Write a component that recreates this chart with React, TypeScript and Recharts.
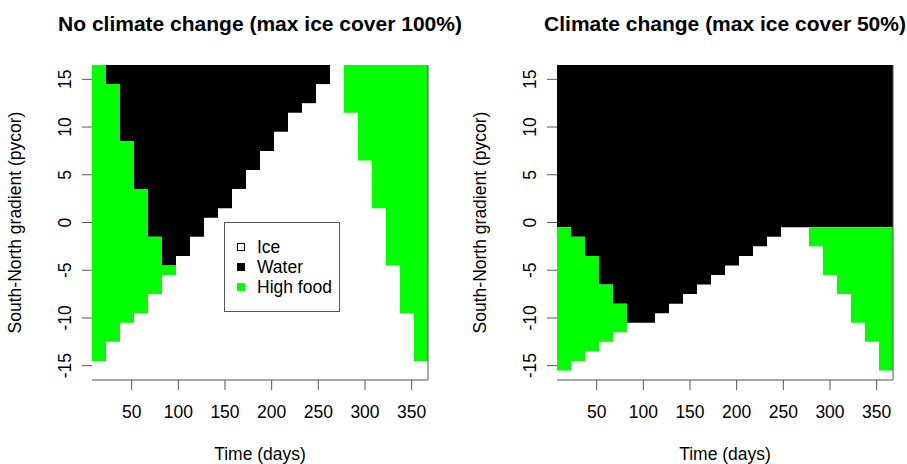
import React from "react";
import { ComposedChart, Bar, XAxis, YAxis, ReferenceLine, Legend } from "recharts";

// one column every 15 days
const days = [15, 30, 45, 60, 75, 90, 105, 120, 135, 150, 165, 180, 195, 210, 225, 240, 255, 270, 285, 300, 315, 330, 345, 360];

// per column: highest ice cell (pycor) and highest high-food cell; water fills the rest up to the top
const iceTopNoChange = [-15, -13, -11, -10, -8, -6, -4, -2, 0, 1, 3, 5, 7, 9, 11, 12, 14, 16, 11, 6, 1, -5, -10, -15];
const foodTopNoChange = [16, 14, 8, 3, -2, -5, -4, -2, 0, 1, 3, 5, 7, 9, 11, 12, 14, 16, 16, 16, 16, 16, 16, 16];

const iceTopChange = [-16, -15, -14, -13, -12, -11, -11, -10, -9, -8, -7, -6, -5, -4, -3, -2, -1, -1, -3, -6, -8, -11, -13, -16];
const foodTopChange = [-1, -2, -4, -7, -9, -11, -11, -10, -9, -8, -7, -6, -5, -4, -3, -2, -1, -1, -1, -1, -1, -1, -1, -1];

const pycorMin = -16;
const pycorMax = 16;
const timeTicks = [50, 100, 150, 200, 250, 300, 350];
const pycorTicks = [-15, -10, -5, 0, 5, 10, 15];
const legendOrder = ["Ice", "Water", "High food"];

const FONT = '"Liberation Sans", Arial, Helvetica, sans-serif';
const AXIS = "#555";
const ICE = "#ffffff";
const WATER = "#000000";
const FOOD = "#00ff00";

function buildRows(iceTop: number[], foodTop: number[]) {
  const lo = pycorMin - 0.5;
  const hi = pycorMax + 0.5;
  return days.map((day, i) => ({
    day,
    ice: [lo, iceTop[i] + 0.5],
    food: [iceTop[i] + 0.5, foodTop[i] + 0.5],
    water: [foodTop[i] + 0.5, hi],
  }));
}

const step = days[1] - days[0];
const timeDomain = [days[0] - step / 2, days[days.length - 1] + step / 2];

const YTick = (props: any) => {
  const { x, y, payload } = props;
  return (
    <text x={x} y={y} transform={`rotate(-90 ${x} ${y})`} textAnchor="middle" fontSize={17.5} fill="#000">
      {payload.value}
    </text>
  );
};

const YTitle = (props: any) => {
  const vb = props.viewBox || { x: 0, y: 65, width: 60, height: 315 };
  const x = vb.x + vb.width - 71;
  const y = vb.y + vb.height / 2;
  return (
    <text x={x} y={y} transform={`rotate(-90 ${x} ${y})`} textAnchor="middle" fontSize={17.5} fill="#000">
      South-North gradient (pycor)
    </text>
  );
};

const LegendBox = (props: any) => {
  const payload = [...(props.payload || [])].sort(
    (a: any, b: any) => legendOrder.indexOf(a.value) - legendOrder.indexOf(b.value)
  );
  return (
    <div
      style={{
        boxSizing: "border-box",
        width: 116,
        height: 90,
        border: `1px solid ${AXIS}`,
        background: "#fff",
        padding: "14px 0 0 12px",
        fontFamily: FONT,
        fontSize: 17.5,
        color: "#000",
      }}
    >
      {payload.map((p: any) => (
        <div key={p.value} style={{ display: "flex", alignItems: "center", height: 20 }}>
          <span
            style={{
              display: "inline-block",
              boxSizing: "border-box",
              width: 8,
              height: 8,
              marginRight: 12,
              background: p.color,
              border: `1px solid ${p.color === ICE ? "#000" : p.color}`,
            }}
          />
          <span>{p.value}</span>
        </div>
      ))}
    </div>
  );
};

interface PanelProps {
  title: string;
  rows: any[];
  left: number;
  marginLeft: number;
  marginRight: number;
  legend?: boolean;
}

function Panel({ title, rows, left, marginLeft, marginRight, legend }: PanelProps) {
  const width = 453;
  const plotLeft = marginLeft + 60;
  const plotRight = width - marginRight;
  const center = (plotLeft + plotRight) / 2;
  return (
    <div style={{ position: "absolute", left, top: 0, width, height: 464, fontFamily: FONT }}>
      <div
        style={{
          position: "absolute",
          top: 13,
          left: center - 250,
          width: 500,
          textAlign: "center",
          fontWeight: "bold",
          fontSize: 21,
          lineHeight: "21px",
          whiteSpace: "nowrap",
          color: "#000",
        }}
      >
        {title}
      </div>
      <ComposedChart
        width={width}
        height={464}
        data={rows}
        margin={{ top: 65, right: marginRight, bottom: 54, left: marginLeft }}
        barCategoryGap={0}
        barGap={0}
      >
        <XAxis xAxisId="ice" dataKey="day" type="category" height={0} hide />
        <XAxis xAxisId="water" dataKey="day" type="category" height={0} hide />
        <XAxis xAxisId="food" dataKey="day" type="category" height={0} hide />
        <XAxis
          xAxisId="time"
          dataKey="day"
          type="number"
          domain={timeDomain}
          allowDataOverflow
          ticks={timeTicks}
          interval={0}
          height={30}
          tickSize={10}
          tickMargin={16}
          axisLine={{ stroke: AXIS }}
          tickLine={{ stroke: AXIS }}
          tick={{ fontSize: 17.5, fill: "#000" }}
          label={{ value: "Time (days)", position: "bottom", offset: 38, fontSize: 17.5, fill: "#000" }}
        />
        <YAxis
          type="number"
          domain={[pycorMin - 0.5, pycorMax + 0.5]}
          allowDataOverflow
          ticks={pycorTicks}
          interval={0}
          width={60}
          tickSize={10}
          tickMargin={11}
          axisLine={false}
          tickLine={{ stroke: AXIS }}
          tick={YTick}
          label={YTitle}
        />
        <Bar xAxisId="ice" dataKey="ice" name="Ice" fill={ICE} isAnimationActive={false} />
        <Bar xAxisId="water" dataKey="water" name="Water" fill={WATER} isAnimationActive={false} />
        <Bar xAxisId="food" dataKey="food" name="High food" fill={FOOD} isAnimationActive={false} />
        <ReferenceLine xAxisId="time" x={timeDomain[1]} stroke={AXIS} ifOverflow="visible" />
        {legend && (
          <Legend
            layout="vertical"
            align="center"
            verticalAlign="middle"
            content={LegendBox}
            wrapperStyle={{ left: 224, top: 222, width: 116, height: 90 }}
          />
        )}
      </ComposedChart>
    </div>
  );
}

export default function App() {
  const noChange = buildRows(iceTopNoChange, foodTopNoChange);
  const change = buildRows(iceTopChange, foodTopChange);
  return (
    <div style={{ position: "absolute", left: 0, top: 0, width: 907, height: 464, background: "#fff" }}>
      <Panel title="No climate change (max ice cover 100%)" rows={noChange} left={0} marginLeft={32} marginRight={25} legend />
      <Panel title="Climate change (max ice cover 50%)" rows={change} left={453} marginLeft={44} marginRight={13} />
    </div>
  );
}
